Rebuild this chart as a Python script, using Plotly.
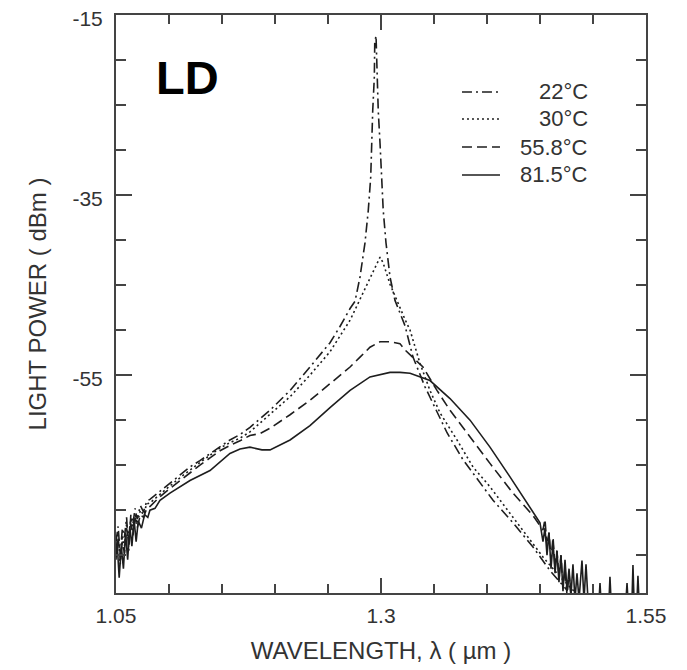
import plotly.graph_objects as go

# ---------------- data ----------------
series_names = ["22°C", "30°C", "55.8°C", "81.5°C"]

wl_22 = [1.050, 1.052, 1.054, 1.056, 1.058, 1.060, 1.062, 1.064, 1.066, 1.068, 1.070, 1.073, 1.076, 1.079, 1.082,
         1.0915, 1.1009, 1.1104, 1.1198, 1.1292, 1.1387, 1.1481, 1.1575, 1.1670, 1.1764, 1.1953, 1.2142, 1.2330,
         1.2519, 1.2613, 1.2708, 1.2755, 1.2802, 1.2849, 1.2880, 1.2903, 1.2912, 1.2922, 1.2937, 1.2941, 1.2953,
         1.2962, 1.2974, 1.2991, 1.3006, 1.3021, 1.3047, 1.3085, 1.3132, 1.3226, 1.3302, 1.3415, 1.3509, 1.3623,
         1.3774, 1.3934, 1.4057, 1.4245, 1.4434, 1.4594, 1.4755]
p_22 = [-73.5, -71.8, -75.0, -72.0, -73.0, -70.8, -74.5, -70.5, -71.5, -69.8, -71.0, -69.5, -70.2, -69.0, -68.8,
        -67.9, -67.0, -66.1, -65.2, -64.5, -63.7, -62.9, -62.2, -61.6, -60.8, -58.9, -56.7, -54.1,
        -51.4, -49.6, -47.6, -46.8, -44.1, -40.3, -36.7, -33.0, -29.3, -25.6, -21.9, -18.1, -17.3,
        -21.0, -25.6, -29.3, -33.0, -36.7, -40.3, -44.1, -46.7, -49.5, -53.0, -56.3, -58.6, -61.4,
        -64.4, -67.0, -68.9, -71.4, -74.1, -76.7, -78.9]

wl_30 = [1.050, 1.052, 1.054, 1.056, 1.058, 1.060, 1.062, 1.064, 1.066, 1.068, 1.070, 1.073, 1.076, 1.079, 1.082,
         1.0915, 1.1009, 1.1104, 1.1198, 1.1292, 1.1387, 1.1481, 1.1575, 1.1670, 1.1764, 1.1953, 1.2142, 1.2330,
         1.2519, 1.2708, 1.2802, 1.2849, 1.2915, 1.2953, 1.2991, 1.3019, 1.3057, 1.3085, 1.3132, 1.3179, 1.3226,
         1.3274, 1.3368, 1.3462, 1.3557, 1.3717, 1.3868, 1.4028, 1.4245, 1.4528, 1.4689, 1.4830]
p_30 = [-74.0, -72.5, -76.0, -72.8, -74.0, -71.5, -73.0, -71.0, -72.2, -70.3, -71.5, -70.0, -70.5, -69.3, -69.2,
        -68.2, -67.3, -66.4, -65.5, -64.7, -63.9, -63.1, -62.5, -62.0, -61.3, -59.4, -57.4, -55.0,
        -52.4, -48.9, -46.6, -45.4, -43.8, -42.8, -41.9, -42.5, -43.9, -44.9, -46.2, -47.6, -48.8,
        -50.0, -53.7, -56.7, -59.2, -62.2, -65.2, -67.4, -70.8, -75.2, -77.4, -79.1]

wl_55 = [1.050, 1.052, 1.054, 1.056, 1.058, 1.060, 1.062, 1.064, 1.066, 1.068, 1.070, 1.073, 1.076, 1.079, 1.082,
         1.0915, 1.1009, 1.1104, 1.1198, 1.1292, 1.1387, 1.1481, 1.1575, 1.1670, 1.1764, 1.1858, 1.1953, 1.2142,
         1.2330, 1.2519, 1.2708, 1.2802, 1.2896, 1.2991, 1.3085, 1.3179, 1.3226, 1.3396, 1.3528, 1.3651, 1.3840,
         1.4028, 1.4245, 1.4434, 1.4528, 1.4547, 1.4566, 1.4585, 1.4604, 1.4623, 1.4642, 1.4660, 1.4679, 1.4698,
         1.4717, 1.4736, 1.4755, 1.4774, 1.4792]
p_55 = [-74.5, -73.0, -75.5, -73.5, -74.8, -72.0, -73.5, -71.5, -72.8, -70.8, -72.0, -70.5, -70.8, -69.8, -69.6,
        -68.5, -67.6, -66.7, -65.8, -65.0, -64.2, -63.4, -62.8, -62.3, -61.7, -61.5, -60.9, -59.4,
        -57.8, -55.9, -54.1, -53.0, -51.9, -51.3, -51.3, -51.5, -52.2, -54.1, -56.7, -58.9, -61.9,
        -64.8, -68.1, -70.6, -72.2, -71.0, -74.0, -72.5, -75.5, -73.0, -76.5, -74.5, -77.5, -75.0,
        -78.5, -76.5, -79.5, -77.0, -79.5]

wl_81 = [1.050, 1.051, 1.053, 1.055, 1.057, 1.059, 1.061, 1.063, 1.065, 1.067, 1.069, 1.071, 1.074, 1.077, 1.080,
         1.082, 1.0868, 1.0915, 1.1009, 1.1198, 1.1387, 1.1575, 1.1670, 1.1764, 1.1877, 1.1953, 1.2142, 1.2330,
         1.2519, 1.2708, 1.2896, 1.3085, 1.3179, 1.3274, 1.3462, 1.3651, 1.3840, 1.4028, 1.4217, 1.4406, 1.4500,
         1.4528, 1.4547, 1.4566, 1.4585, 1.4604, 1.4623, 1.4642, 1.4660, 1.4679, 1.4698, 1.4717, 1.4736, 1.4755,
         1.4774, 1.4792, 1.4811, 1.4830, 1.4849, 1.4868, 1.4896, 1.4915, 1.4934, 1.4953,
         1.5057, 1.5066, 1.5075, 1.5151, 1.5160, 1.5170, 1.5311, 1.5321, 1.5330, 1.5368, 1.5377, 1.5387,
         1.5415, 1.5424, 1.5434]
p_81 = [-75.5, -73.5, -77.5, -74.0, -76.5, -72.5, -75.5, -71.8, -74.0, -71.0, -73.5, -71.2, -72.0, -70.5, -70.8,
        -70.0, -69.8, -68.9, -68.1, -66.7, -65.6, -63.7, -63.2, -63.0, -63.3, -63.3, -62.2, -60.6,
        -58.6, -56.7, -55.2, -54.7, -54.7, -54.8, -55.6, -57.6, -60.0, -63.0, -66.3, -69.7, -71.4,
        -73.5, -72.0, -75.0, -72.5, -76.5, -73.5, -77.0, -74.5, -78.0, -75.0, -79.0, -75.5, -79.0,
        -76.5, -79.5, -76.0, -80.0, -77.0, -80.0, -75.6, -80.0, -76.0, -80.0,
        -80.0, -78.1, -80.0, -80.0, -77.4, -80.0, -80.0, -78.1, -80.0, -80.0, -76.1, -80.0,
        -80.0, -77.3, -80.0]

x_tickvals = [1.05, 1.3, 1.55]
x_ticktext = ["1.05", "1.3", "1.55"]
y_tickvals = [-15, -35, -55]
y_ticktext = ["-15", "-35", "-55"]

# ---------------- styling ----------------
FONT = "Arial, 'Liberation Sans', Helvetica, sans-serif"
LINE_COL = "#1e1e1e"
AXIS_COL = "#444444"
TEXT_COL = "#333333"
dashes = ["10px,4px,2px,4px", "2px,3px", "10px,5px", "solid"]

series = [(wl_22, p_22), (wl_30, p_30), (wl_55, p_55), (wl_81, p_81)]

fig = go.Figure()
for (x, y), name, d in zip(series, series_names, dashes):
    fig.add_trace(go.Scatter(x=x, y=y, mode="lines", name=name,
                             line=dict(color=LINE_COL, width=1.6, dash=d),
                             showlegend=False))

# hand-built legend (right-aligned labels like the original)
leg_y = [0.8668, 0.8201, 0.7716, 0.7232]
for name, d, yy in zip(series_names, dashes, leg_y):
    fig.add_shape(type="line", xref="paper", yref="paper", x0=0.6528, x1=0.7245, y0=yy, y1=yy,
                  line=dict(color=LINE_COL, width=1.6, dash=d))
    fig.add_annotation(xref="paper", yref="paper", x=0.8943, y=yy, text=name, showarrow=False,
                       xanchor="right", yanchor="middle",
                       font=dict(family=FONT, size=22, color=TEXT_COL))

fig.add_annotation(x=1.1179, y=-21.94, text="<b>LD</b>", showarrow=False,
                   xanchor="center", yanchor="middle",
                   font=dict(family=FONT, size=47, color="#000000"))

# the page body adds an 8px offset, so the figure is 8px smaller and shifted accordingly
fig.update_layout(
    width=679, height=662,
    margin=dict(l=108, r=41, t=7, b=77, autoexpand=False),
    paper_bgcolor="white", plot_bgcolor="white",
    font=dict(family=FONT, color=TEXT_COL),
)
fig.update_xaxes(
    range=[1.05, 1.55], tickmode="array", tickvals=x_tickvals, ticktext=x_ticktext,
    ticks="inside", ticklen=15, tickwidth=1.5, tickcolor=AXIS_COL,
    minor=dict(ticks="inside", dtick=0.05, tick0=1.05, ticklen=9, tickwidth=1.5, tickcolor=AXIS_COL),
    showline=True, linecolor=AXIS_COL, linewidth=2, mirror="ticks",
    showgrid=False, zeroline=False, automargin=False, ticklabeloverflow="allow",
    tickfont=dict(family=FONT, size=21, color=TEXT_COL), ticklabelstandoff=3,
    title=dict(text="WAVELENGTH, λ ( µm )", font=dict(family=FONT, size=24, color=TEXT_COL), standoff=16),
)
fig.update_yaxes(
    range=[-79.2, -15], tickmode="array", tickvals=y_tickvals, ticktext=y_ticktext,
    ticks="inside", ticklen=16, tickwidth=1.5, tickcolor=AXIS_COL,
    minor=dict(ticks="inside", dtick=5, tick0=-15, ticklen=10, tickwidth=1.5, tickcolor=AXIS_COL),
    showline=True, linecolor=AXIS_COL, linewidth=2, mirror="ticks",
    showgrid=False, zeroline=False, automargin=False, ticklabeloverflow="allow",
    tickfont=dict(family=FONT, size=21, color=TEXT_COL), ticklabelstandoff=7, ticklabelshift=4,
    title=dict(text="LIGHT POWER ( dBm )", font=dict(family=FONT, size=24, color=TEXT_COL), standoff=19),
)

fig.write_html("out.html")
